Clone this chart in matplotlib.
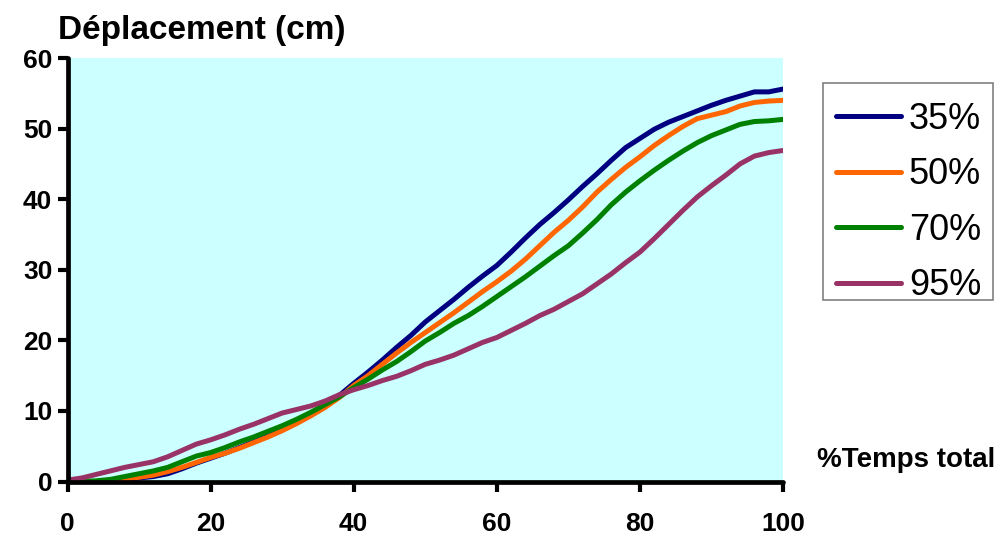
import matplotlib
matplotlib.use("Agg")
import matplotlib.pyplot as plt
from matplotlib.patches import Rectangle

# Percentage of total time (every 2 %)
temps = list(range(0, 101, 2))

# Displacement (cm) for each condition
dep_35 = [0.0, 0.0, 0.0, 0.0, 0.2, 0.5, 0.7, 1.1, 1.8, 2.6,
          3.3, 4.0, 4.8, 5.6, 6.4, 7.3, 8.3, 9.4, 10.6, 12.2,
          13.9, 15.5, 17.2, 19.0, 20.7, 22.6, 24.2, 25.8, 27.5, 29.1,
          30.6, 32.5, 34.5, 36.4, 38.1, 39.9, 41.8, 43.6, 45.5, 47.3,
          48.6, 49.9, 50.9, 51.7, 52.5, 53.3, 54.0, 54.6, 55.2, 55.2,
          55.6]
dep_50 = [0.0, 0.0, 0.0, 0.1, 0.3, 0.6, 0.9, 1.4, 2.0, 2.7,
          3.4, 4.0, 4.7, 5.5, 6.3, 7.2, 8.2, 9.3, 10.5, 11.9,
          13.6, 15.0, 16.6, 18.2, 19.7, 21.1, 22.5, 23.9, 25.4, 26.9,
          28.3, 29.8, 31.5, 33.4, 35.3, 37.0, 38.9, 41.0, 42.8, 44.5,
          46.0, 47.6, 49.0, 50.3, 51.4, 51.9, 52.4, 53.2, 53.7, 53.9,
          54.0]
dep_70 = [0.0, 0.0, 0.1, 0.3, 0.7, 1.1, 1.5, 2.0, 2.8, 3.6,
          4.1, 4.8, 5.6, 6.3, 7.1, 7.9, 8.8, 9.8, 10.9, 12.0,
          13.3, 14.5, 15.8, 17.0, 18.4, 19.9, 21.1, 22.4, 23.5, 24.8,
          26.2, 27.6, 29.0, 30.5, 32.0, 33.4, 35.2, 37.1, 39.2, 41.0,
          42.6, 44.1, 45.5, 46.8, 48.0, 49.0, 49.8, 50.6, 51.0, 51.1,
          51.3]
dep_95 = [0.2, 0.5, 1.0, 1.5, 2.0, 2.4, 2.8, 3.5, 4.4, 5.3,
          5.9, 6.6, 7.4, 8.1, 8.9, 9.7, 10.2, 10.7, 11.4, 12.3,
          13.0, 13.6, 14.3, 14.9, 15.7, 16.6, 17.2, 17.9, 18.8, 19.7,
          20.4, 21.4, 22.4, 23.5, 24.4, 25.5, 26.6, 28.0, 29.4, 31.0,
          32.5, 34.4, 36.4, 38.4, 40.3, 41.9, 43.4, 45.0, 46.1, 46.6,
          46.9]

series_labels = ["35%", "50%", "70%", "95%"]
series_colors = ["#000080", "#FF6600", "#008000", "#993366"]

plt.rcParams["font.family"] = ["Liberation Sans", "DejaVu Sans"]

W, H = 1001, 535
fig = plt.figure(figsize=(W / 100, H / 100), dpi=100)
ax = fig.add_axes([67.5 / W, 1 - 481.5 / H, (783 - 67.5) / W, (481.5 - 58) / H])
ax.set_facecolor("#CCFFFF")

for ys, lab, col in zip([dep_35, dep_50, dep_70, dep_95], series_labels, series_colors):
    ax.plot(temps, ys, color=col, lw=3.6, label=lab,
            solid_capstyle="round", solid_joinstyle="round")

ax.set_xlim(0, 100)
ax.set_ylim(0, 60)
ax.set_xticks(range(0, 101, 20))
ax.set_yticks(range(0, 61, 10))

for side in ("top", "right"):
    ax.spines[side].set_visible(False)
for side in ("left", "bottom"):
    ax.spines[side].set_linewidth(3.4)
    ax.spines[side].set_color("black")
    ax.spines[side].set_capstyle("round")

ax.tick_params(axis="both", direction="out", length=7, width=3,
               labelsize=19)
ax.tick_params(axis="x", pad=15)
ax.tick_params(axis="y", pad=4)
for t in ax.get_xticklabels() + ax.get_yticklabels():
    t.set_fontweight("bold")
for tl in ax.xaxis.get_ticklines() + ax.yaxis.get_ticklines():
    tl.set_solid_capstyle("round")

fig.text(58 / W, 1 - 31 / H, "Déplacement (cm)", fontsize=24,
         fontweight="bold", ha="left", va="center")
fig.text(817 / W, 1 - 460 / H, "%Temps total", fontsize=20,
         fontweight="bold", ha="left", va="center")

# Legend box drawn as a plain grey-bordered rectangle behind the entries
fig.patches.append(Rectangle((823 / W, 1 - 300 / H), (993 - 823) / W, (300 - 83) / H,
                             transform=fig.transFigure, facecolor="white",
                             edgecolor="#808080", linewidth=1.2, zorder=-1))
leg = ax.legend(loc="upper left", bbox_to_anchor=(823 / W, 1 - 89 / H),
                bbox_transform=fig.transFigure, borderaxespad=0,
                fontsize=26, handlelength=1.8, handletextpad=0.22,
                labelspacing=0.565, borderpad=0.36, frameon=False)
for h in leg.get_lines():
    h.set_linewidth(3.6)

fig.savefig("out.png", dpi=100)
